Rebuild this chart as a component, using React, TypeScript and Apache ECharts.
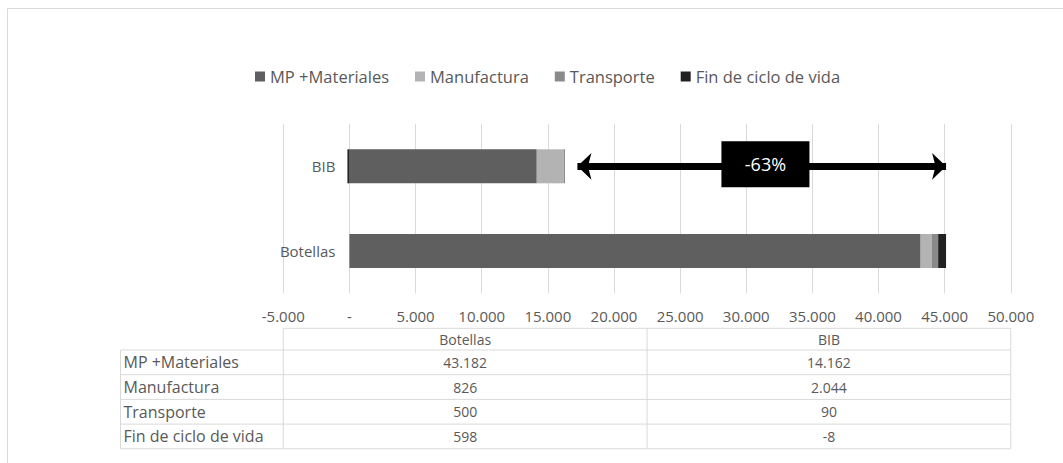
import React, { useEffect, useRef } from "react";
import * as echarts from "echarts";

// ---- data ----
const categories = ["Botellas", "BIB"];
const seriesNames = ["MP +Materiales", "Manufactura", "Transporte", "Fin de ciclo de vida"];
const mpMateriales = [43182, 14162];
const manufactura = [826, 2044];
const transporte = [500, 90];
const finCiclo = [598, -8];
const xMin = -5000;
const xMax = 50000;
const xInterval = 5000;
const reductionLabel = "-63%";
const reductionBoxValue = 31450;

// ---- style ----
const seriesColors = ["#5f5f5f", "#b3b3b3", "#8a8a8a", "#212121"];
const TEXT = "#595959";
const LINE = "#d9d9d9";
const FONT = "'Open Sans', sans-serif";

const GRID_L = 283.3;
const GRID_R = 1010.8;
const GRID_T = 124;
const GRID_B = 293.3;

const fmt = (v: number) =>
  v === 0 ? "-" : (v < 0 ? "-" : "") + Math.abs(v).toString().replace(/\B(?=(\d{3})+(?!\d))/g, ".");

export default function App() {
  const ref = useRef<HTMLDivElement>(null);

  useEffect(() => {
    if (!ref.current) return;
    const chart = echarts.init(ref.current, null, { renderer: "svg" });
    const allSeries = [mpMateriales, manufactura, transporte, finCiclo];
    const totals = categories.map((_, i) => allSeries.reduce((s, arr) => s + arr[i], 0));
    const bibIdx = categories.indexOf("BIB");
    const botIdx = categories.indexOf("Botellas");
    const arrowStart = totals[bibIdx] + 950;
    const arrowEnd = totals[botIdx];
    const zeroOffset = ((0 - xMin) / (xMax - xMin)) * (GRID_R - GRID_L);

    // table
    const headerTop = 328.3;
    const headerBottom = 350;
    const rowH = 24.7;
    const tableLeft = 120.5;
    const colMid = (GRID_L + GRID_R) / 2;
    const colEdges = [GRID_L, colMid, GRID_R];
    const tableBottom = headerBottom + rowH * seriesNames.length;
    const tableEls: any[] = [];
    const hLine = (x1: number, x2: number, y: number) =>
      tableEls.push({ type: "line", shape: { x1, y1: y, x2, y2: y }, style: { stroke: LINE, lineWidth: 1 }, silent: true });
    const vLine = (x: number, y1: number, y2: number) =>
      tableEls.push({ type: "line", shape: { x1: x, y1, x2: x, y2 }, style: { stroke: LINE, lineWidth: 1 }, silent: true });
    hLine(GRID_L, GRID_R, headerTop);
    for (let k = 0; k <= seriesNames.length; k++) hLine(tableLeft, GRID_R, headerBottom + k * rowH);
    vLine(tableLeft, headerBottom, tableBottom);
    colEdges.forEach((x) => vLine(x, headerTop, tableBottom));
    categories.forEach((c, ci) => {
      tableEls.push({
        type: "text",
        x: (colEdges[ci] + colEdges[ci + 1]) / 2,
        y: (headerTop + headerBottom) / 2,
        style: { text: c, fill: TEXT, font: `14px ${FONT}`, align: "center", verticalAlign: "middle" },
        silent: true,
      });
    });
    seriesNames.forEach((name, ri) => {
      const cy = headerBottom + ri * rowH + rowH / 2;
      tableEls.push({
        type: "text",
        x: tableLeft + 3,
        y: cy,
        style: { text: name, fill: TEXT, font: `16px ${FONT}`, align: "left", verticalAlign: "middle" },
        silent: true,
      });
      categories.forEach((_, ci) => {
        tableEls.push({
          type: "text",
          x: (colEdges[ci] + colEdges[ci + 1]) / 2,
          y: cy,
          style: { text: fmt(allSeries[ri][ci]), fill: TEXT, font: `14px ${FONT}`, align: "center", verticalAlign: "middle" },
          silent: true,
        });
      });
    });

    const series: any[] = seriesNames.map((name, i) => ({
      name,
      type: "bar",
      stack: "total",
      barWidth: 34,
      data: allSeries[i],
      itemStyle: { color: seriesColors[i] },
      silent: true,
      ...(i === 3 ? { barMinHeight: 2 } : {}),
    }));
    series[3].markLine = {
      silent: true,
      symbol: ["arrow", "arrow"],
      symbolSize: [20, 14],
      label: { show: false },
      lineStyle: { color: "#000", width: 7, type: "solid" },
      data: [[{ coord: [arrowStart, "BIB"] }, { coord: [arrowEnd, "BIB"] }]],
      z: 5,
    };
    series[3].markPoint = {
      silent: true,
      symbol: "rect",
      symbolSize: [88, 46],
      symbolOffset: [0, -2],
      itemStyle: { color: "#000" },
      label: {
        show: true,
        position: "inside",
        formatter: reductionLabel,
        color: "#fff",
        fontSize: 18,
        fontFamily: FONT,
      },
      data: [{ coord: [reductionBoxValue, "BIB"] }],
      z: 6,
    };

    chart.setOption({
      animation: false,
      textStyle: { fontFamily: FONT },
      legend: {
        data: seriesNames,
        left: 250,
        top: 63,
        icon: "rect",
        itemWidth: 10,
        itemHeight: 10,
        itemGap: 26,
        textStyle: { color: TEXT, fontSize: 16.5, fontFamily: FONT },
        selectedMode: false,
      },
      grid: {
        left: GRID_L,
        right: 1063 - GRID_R,
        top: GRID_T,
        height: GRID_B - GRID_T,
        containLabel: false,
      },
      xAxis: {
        type: "value",
        min: xMin,
        max: xMax,
        interval: xInterval,
        axisLine: { show: false },
        axisTick: { show: false },
        splitLine: { show: true, lineStyle: { color: LINE, width: 1 } },
        axisLabel: { color: TEXT, fontSize: 15, fontFamily: FONT, margin: 15, formatter: (v: number) => fmt(v) },
      },
      yAxis: {
        type: "category",
        data: categories,
        offset: -zeroOffset,
        axisLine: { show: false, onZero: false },
        axisTick: { show: false },
        axisLabel: { color: TEXT, fontSize: 15, fontFamily: FONT, margin: 14 },
      },
      graphic: [
        {
          type: "rect",
          shape: { x: 7.5, y: 8.5, width: 1200, height: 600 },
          style: { fill: "none", stroke: LINE, lineWidth: 1 },
          silent: true,
          z: -10,
        },
        ...tableEls,
      ],
      series,
    });
    return () => chart.dispose();
  }, []);

  return (
    <div
      ref={ref}
      style={{ position: "absolute", left: 0, top: 0, width: 1063, height: 463, background: "#fff" }}
    />
  );
}
